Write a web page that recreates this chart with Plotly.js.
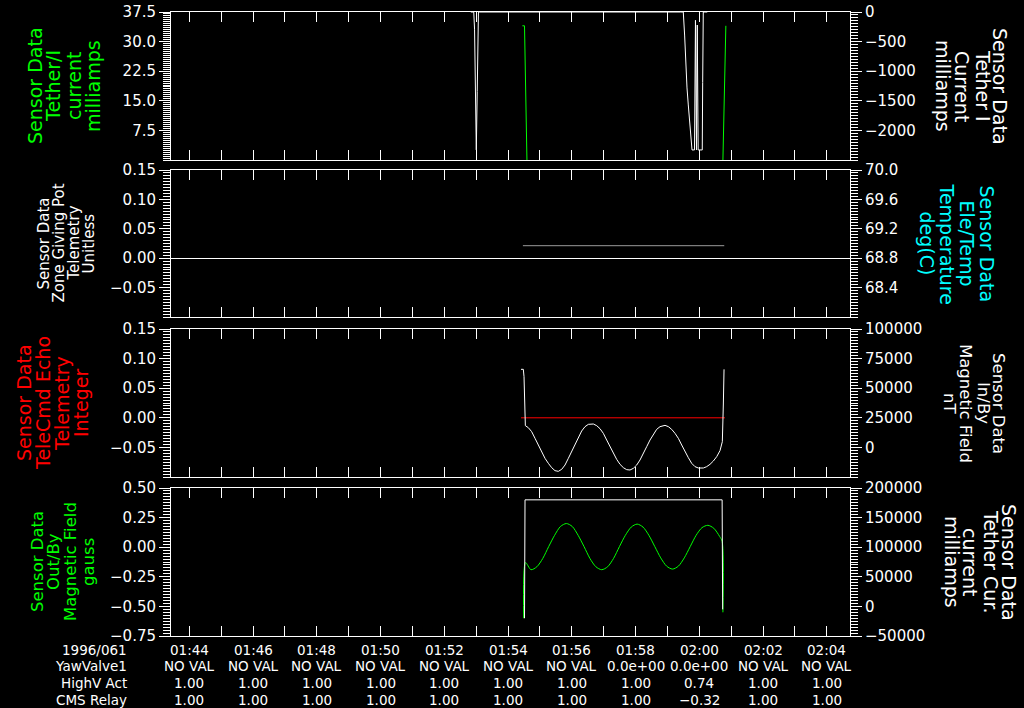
<!DOCTYPE html>
<html><head><meta charset="utf-8">
<script src="https://cdn.plot.ly/plotly-3.0.1.min.js"></script>
<style>html,body{margin:0;padding:0;background:#000;}#chart{width:1024px;height:708px;}</style>
</head><body><div id="chart"></div>
<script>
const DAY = '1996-03-01 ';
// ---------- Panel 1 ----------
const p1GreenTime = ['01:54:27','01:54:31','01:54:36','02:00:44','02:00:50'];
const p1GreenVal  = [34, 34, -3, -3, 34];
const p1WhiteTime = ['01:52:50','01:52:55.5','01:52:57.0','01:52:58.6','01:53:00.3','01:53:02.0','01:53:03.2','01:53:04.3',
  '01:59:25','01:59:29.9','01:59:32.5','01:59:34.4','01:59:36.9','01:59:39.3','01:59:42.0','01:59:44.4','01:59:46.3',
  '01:59:51.0','01:59:52.8','01:59:54.7','01:59:56.2','01:59:57.9','02:00:05.6','02:00:06.4','02:00:07.5','02:00:15'];
const p1WhiteVal  = [0,0,-290,-1440,-2330,-1340,-440,0,
  0,0,-405,-862,-1283,-1570,-1840,-2110,-2330,
  -2330,-140,-2330,-220,-2330,-2330,-1190,0,0];
// ---------- Panel 2 ----------
const p2TempTime = ['01:54:28','02:00:47'];
const p2TempVal  = [68.97, 68.97];
// ---------- Panel 3 ----------
const p3RedTime = ['01:54:24.4','02:00:48.4'];
const p3RedVal  = [0, 0];
const p3WhiteTime = ['01:54:24.4','01:54:28.8','01:54:30.1','01:54:31.3','01:54:32.6','01:54:38.2','01:54:44.5','01:54:50.8','01:54:57.1',
 '01:55:03.3','01:55:09.6','01:55:15.9','01:55:22.2','01:55:28.4','01:55:34.7','01:55:41.0','01:55:47.3','01:55:53.5','01:55:59.8',
 '01:56:06.1','01:56:12.4','01:56:18.6','01:56:24.9','01:56:31.2','01:56:40.6','01:56:46.9','01:56:53.1','01:56:59.4',
 '01:57:05.7','01:57:12.0','01:57:18.2','01:57:24.5','01:57:30.8','01:57:37.1','01:57:43.3','01:57:49.6','01:57:55.9',
 '01:58:02.2','01:58:08.4','01:58:14.7','01:58:21.0','01:58:27.3','01:58:33.5','01:58:39.8','01:58:46.1','01:58:55.5',
 '01:59:01.8','01:59:08.0','01:59:14.3','01:59:20.6','01:59:26.9','01:59:33.1','01:59:39.4','01:59:45.7','01:59:52.0',
 '01:59:58.2','02:00:07.7','02:00:13.9','02:00:20.2','02:00:26.5','02:00:32.8','02:00:39.0','02:00:43.4','02:00:45.3','02:00:46.6'];
const p3WhiteVal = [65934,65934,59741,36655,18356,16667,13288,7658,2027,
 -3603,-9234,-13457,-17117,-19651,-20214,-18525,-14865,-9234,-3603,
 2590,8502,13851,17511,19482,19764,18356,15822,11881,
 6250,619,-5011,-10079,-14302,-17117,-18806,-19088,-17680,
 -14865,-10642,-5574,619,6250,11036,15259,17511,18637,
 17511,15259,11881,7658,2027,-3603,-8671,-13457,-16272,
 -17398,-17398,-16272,-14302,-11486,-7826,-2758,4842,36655,65934];
// ---------- Panel 4 ----------
const p4GreenTime = ['01:54:29.5','01:54:33.0','01:54:43.2','01:54:54.3','01:55:05.4','01:55:16.5','01:55:27.6','01:55:38.7',
 '01:55:49.8','01:56:00.9','01:56:12.0','01:56:23.1','01:56:34.2','01:56:45.3','01:56:56.4','01:57:07.5','01:57:18.6',
 '01:57:29.7','01:57:40.8','01:57:51.9','01:58:03.0','01:58:14.1','01:58:25.2','01:58:36.3','01:58:47.4','01:58:58.5',
 '01:59:09.6','01:59:20.7','01:59:31.8','01:59:42.9','01:59:54.0','02:00:05.1','02:00:16.2','02:00:27.3','02:00:38.4',
 '02:00:43.0','02:00:44.5'];
const p4GreenVal = [-0.60,-0.13,-0.19,-0.165,-0.095,0.005,0.10,0.175,
 0.20,0.175,0.10,0.005,-0.095,-0.165,-0.19,-0.165,-0.095,
 0.005,0.10,0.17,0.195,0.17,0.10,0.005,-0.09,-0.16,
 -0.185,-0.16,-0.09,0.005,0.10,0.165,0.185,0.16,0.09,
 0.05,-0.55];
const p4WhiteTime = ['01:54:31','01:54:32','02:00:43','02:00:44'];
const p4WhiteVal  = [-20000,180000,180000,-5000];
// ---------- Table ----------
const tickTimes = ['01:44','01:46','01:48','01:50','01:52','01:54','01:56','01:58','02:00','02:02','02:04'];
const rowLabels = ['1996/061','YawValve1','HighV Act','CMS Relay'];
const yawValve1 = ['NO VAL','NO VAL','NO VAL','NO VAL','NO VAL','NO VAL','NO VAL','0.0e+00','0.0e+00','NO VAL','NO VAL'];
const highVAct  = ['1.00','1.00','1.00','1.00','1.00','1.00','1.00','1.00','0.74','1.00','1.00'];
const cmsRelay  = ['1.00','1.00','1.00','1.00','1.00','1.00','1.00','1.00','\u22120.32','1.00','1.00'];
// ---------- Axis titles ----------
const leftTitles = [
  ['Sensor Data','Tether/I','current','milliamps'],
  ['Sensor Data','Zone Giving Pot','Telemetry','Unitless'],
  ['Sensor Data','TeleCmd Echo','Telemetry','Integer'],
  ['Sensor Data','Out/By','Magnetic Field','gauss']];
const rightTitles = [
  ['Sensor Data','Tether I','Current','milliamps'],
  ['Sensor Data','Ele/Temp','Temperature','deg(C)'],
  ['Sensor Data','In/By','Magnetic Field','nT'],
  ['Sensor Data','Tether Cur.','current','milliamps']];
const leftTicks = [[7.5,15,22.5,30,37.5],[-0.05,0,0.05,0.1,0.15],[-0.05,0,0.05,0.1,0.15],[-0.75,-0.5,-0.25,0,0.25,0.5]];
const rightTicks = [[-2000,-1500,-1000,-500,0],[68.4,68.8,69.2,69.6,70.0],[0,25000,50000,75000,100000],[-50000,0,50000,100000,150000,200000]];

// ---------- Layout helpers (positions only) ----------
const L = 171, R = 850, TOP = 12, BOT = 636, W = R - L, H = BOT - TOP;
const px = x => (x - L) / W;
const py = y => (BOT - y) / H;
const T = a => a.map(s => DAY + s);
const FONT = 'DejaVu Sans';
const WHITE = '#ffffff';
const panels = [[12,160],[170,317],[329,477],[488,636]];
const leftFmt = ['.1f','.2f','.2f','.2f'], rightFmt = ['d','.1f','d','d'];
const leftRange = [[0,37.5],[-0.1,0.15],[-0.1,0.15],[-0.75,0.5]];
const rightRange = [[-2500,0],[68.0,70.0],[-25000,100000],[-50000,200000]];
const leftMinor = [0.5,0.005,0.005,0.025], rightMinor = [50,0.04,2500,5000];
const xRange = [DAY+'01:43:25.6', DAY+'02:04:43.7'];

const traces = [
  {x:T(p1GreenTime), y:p1GreenVal, xaxis:'x', yaxis:'y', mode:'lines', line:{color:'#00ff00', width:1}},
  {x:T(p1WhiteTime), y:p1WhiteVal, xaxis:'x', yaxis:'y2', mode:'lines', line:{color:WHITE, width:1}},
  {x:T(p2TempTime), y:p2TempVal, xaxis:'x2', yaxis:'y4', mode:'lines', line:{color:'#9a9a9a', width:1}},
  {x:T(p3RedTime), y:p3RedVal, xaxis:'x3', yaxis:'y5', mode:'lines', line:{color:'#ff0000', width:1}},
  {x:T(p3WhiteTime), y:p3WhiteVal, xaxis:'x3', yaxis:'y6', mode:'lines', line:{color:WHITE, width:1}},
  {x:T(p4WhiteTime), y:p4WhiteVal, xaxis:'x4', yaxis:'y8', mode:'lines', line:{color:WHITE, width:1}},
  {x:T(p4GreenTime), y:p4GreenVal, xaxis:'x4', yaxis:'y7', mode:'lines', line:{color:'#00ff00', width:1, shape:'spline', smoothing:0.8}},
  {x:[xRange[0]], y:[0], xaxis:'x2', yaxis:'y3', mode:'markers', marker:{opacity:0}}
];

const layout = {
  width:1024, height:708, paper_bgcolor:'#000', plot_bgcolor:'#000',
  margin:{l:L, r:1024-R, t:TOP, b:708-BOT}, showlegend:false, hovermode:false,
  font:{family:FONT, color:WHITE, size:15},
  annotations:[]
};
const xNames = ['xaxis','xaxis2','xaxis3','xaxis4'];
const xIds = ['x','x2','x3','x4'];
for (let i = 0; i < 4; i++) {
  const dom = [py(panels[i][1]), py(panels[i][0])];
  const ly = 2*i+1, ry = 2*i+2;
  const lyName = ly === 1 ? 'yaxis' : 'yaxis'+ly, lyId = ly === 1 ? 'y' : 'y'+ly;
  layout[xNames[i]] = {
    type:'date', range:xRange, anchor:lyId, showline:true, linecolor:WHITE, linewidth:1,
    mirror:'allticks', ticks:'inside', ticklen:10, tickcolor:WHITE, tickwidth:1,
    tick0:DAY+'01:44:00', dtick:120000, showticklabels:false, showgrid:false, zeroline:false,
    minor:{dtick:60000, ticks:'inside', ticklen:6, tickcolor:WHITE, tickwidth:1, showgrid:false}
  };
  if (i > 0) layout[xNames[i]].matches = 'x';
  layout[lyName] = {
    domain:dom, anchor:xIds[i], range:leftRange[i], showline:true, linecolor:WHITE, linewidth:1,
    ticks:'outside', ticklen:11, tickcolor:WHITE, tickwidth:1, tickmode:'array', tickvals:leftTicks[i],
    tickformat:leftFmt[i], showgrid:false, zeroline:(i===1), zerolinecolor:WHITE, zerolinewidth:1,
    tickfont:{family:FONT, size:15, color:WHITE},
    minor:{dtick:leftMinor[i], ticks:'outside', ticklen:7, tickcolor:WHITE, tickwidth:1, showgrid:false}
  };
  layout['yaxis'+ry] = {
    overlaying:lyId, side:'right', anchor:xIds[i], range:rightRange[i], showline:true, linecolor:WHITE, linewidth:1,
    ticks:'outside', ticklen:11, tickcolor:WHITE, tickwidth:1, tickmode:'array', tickvals:rightTicks[i],
    tickformat:rightFmt[i], showgrid:false, zeroline:false,
    tickfont:{family:FONT, size:15, color:WHITE},
    minor:{dtick:rightMinor[i], ticks:'outside', ticklen:7, tickcolor:WHITE, tickwidth:1, showgrid:false}
  };
}

// Axis title annotations (one per line)
const leftStyle = [
  {color:'#00ff00', size:19, xs:[35,53,74,93]},
  {color:WHITE, size:15, xs:[43,58,73,88]},
  {color:'#ff0000', size:19, xs:[24,43,62,81]},
  {color:'#00ff00', size:16.5, xs:[37,53,70,88]}];
const rightStyle = [
  {color:WHITE, size:19, xs:[1000,983,962,943]},
  {color:'#00ffff', size:19, xs:[987,967,947,927]},
  {color:WHITE, size:16.5, xs:[999,984,966,950]},
  {color:WHITE, size:19, xs:[1009,991,970,952]}];
for (let i = 0; i < 4; i++) {
  const cy = (panels[i][0] + panels[i][1]) / 2;
  leftTitles[i].forEach((t, k) => layout.annotations.push({
    text:t, xref:'paper', yref:'paper', x:px(leftStyle[i].xs[k]), y:py(cy), xanchor:'center', yanchor:'middle',
    textangle:-90, showarrow:false, font:{family:FONT, size:leftStyle[i].size, color:leftStyle[i].color}}));
  rightTitles[i].forEach((t, k) => layout.annotations.push({
    text:t, xref:'paper', yref:'paper', x:px(rightStyle[i].xs[k]), y:py(cy), xanchor:'center', yanchor:'middle',
    textangle:90, showarrow:false, font:{family:FONT, size:rightStyle[i].size, color:rightStyle[i].color}}));
}
// Table
const rowY = [650, 666, 683, 700];
const rows = [tickTimes, yawValve1, highVAct, cmsRelay];
rowLabels.forEach((t, r) => layout.annotations.push({
  text:t, xref:'paper', yref:'paper', x:px(129), y:py(rowY[r]), xanchor:'right', yanchor:'middle',
  showarrow:false, font:{family:FONT, size:13.5, color:WHITE}}));
rows.forEach((row, r) => row.forEach((t, c) => layout.annotations.push({
  text:t, xref:'x4', yref:'paper', x:DAY+tickTimes[c], y:py(rowY[r]), xanchor:'center', yanchor:'middle',
  showarrow:false, font:{family:FONT, size:13.5, color:WHITE}})));

Plotly.newPlot('chart', traces, layout, {staticPlot:true, displayModeBar:false});
</script></body></html>
